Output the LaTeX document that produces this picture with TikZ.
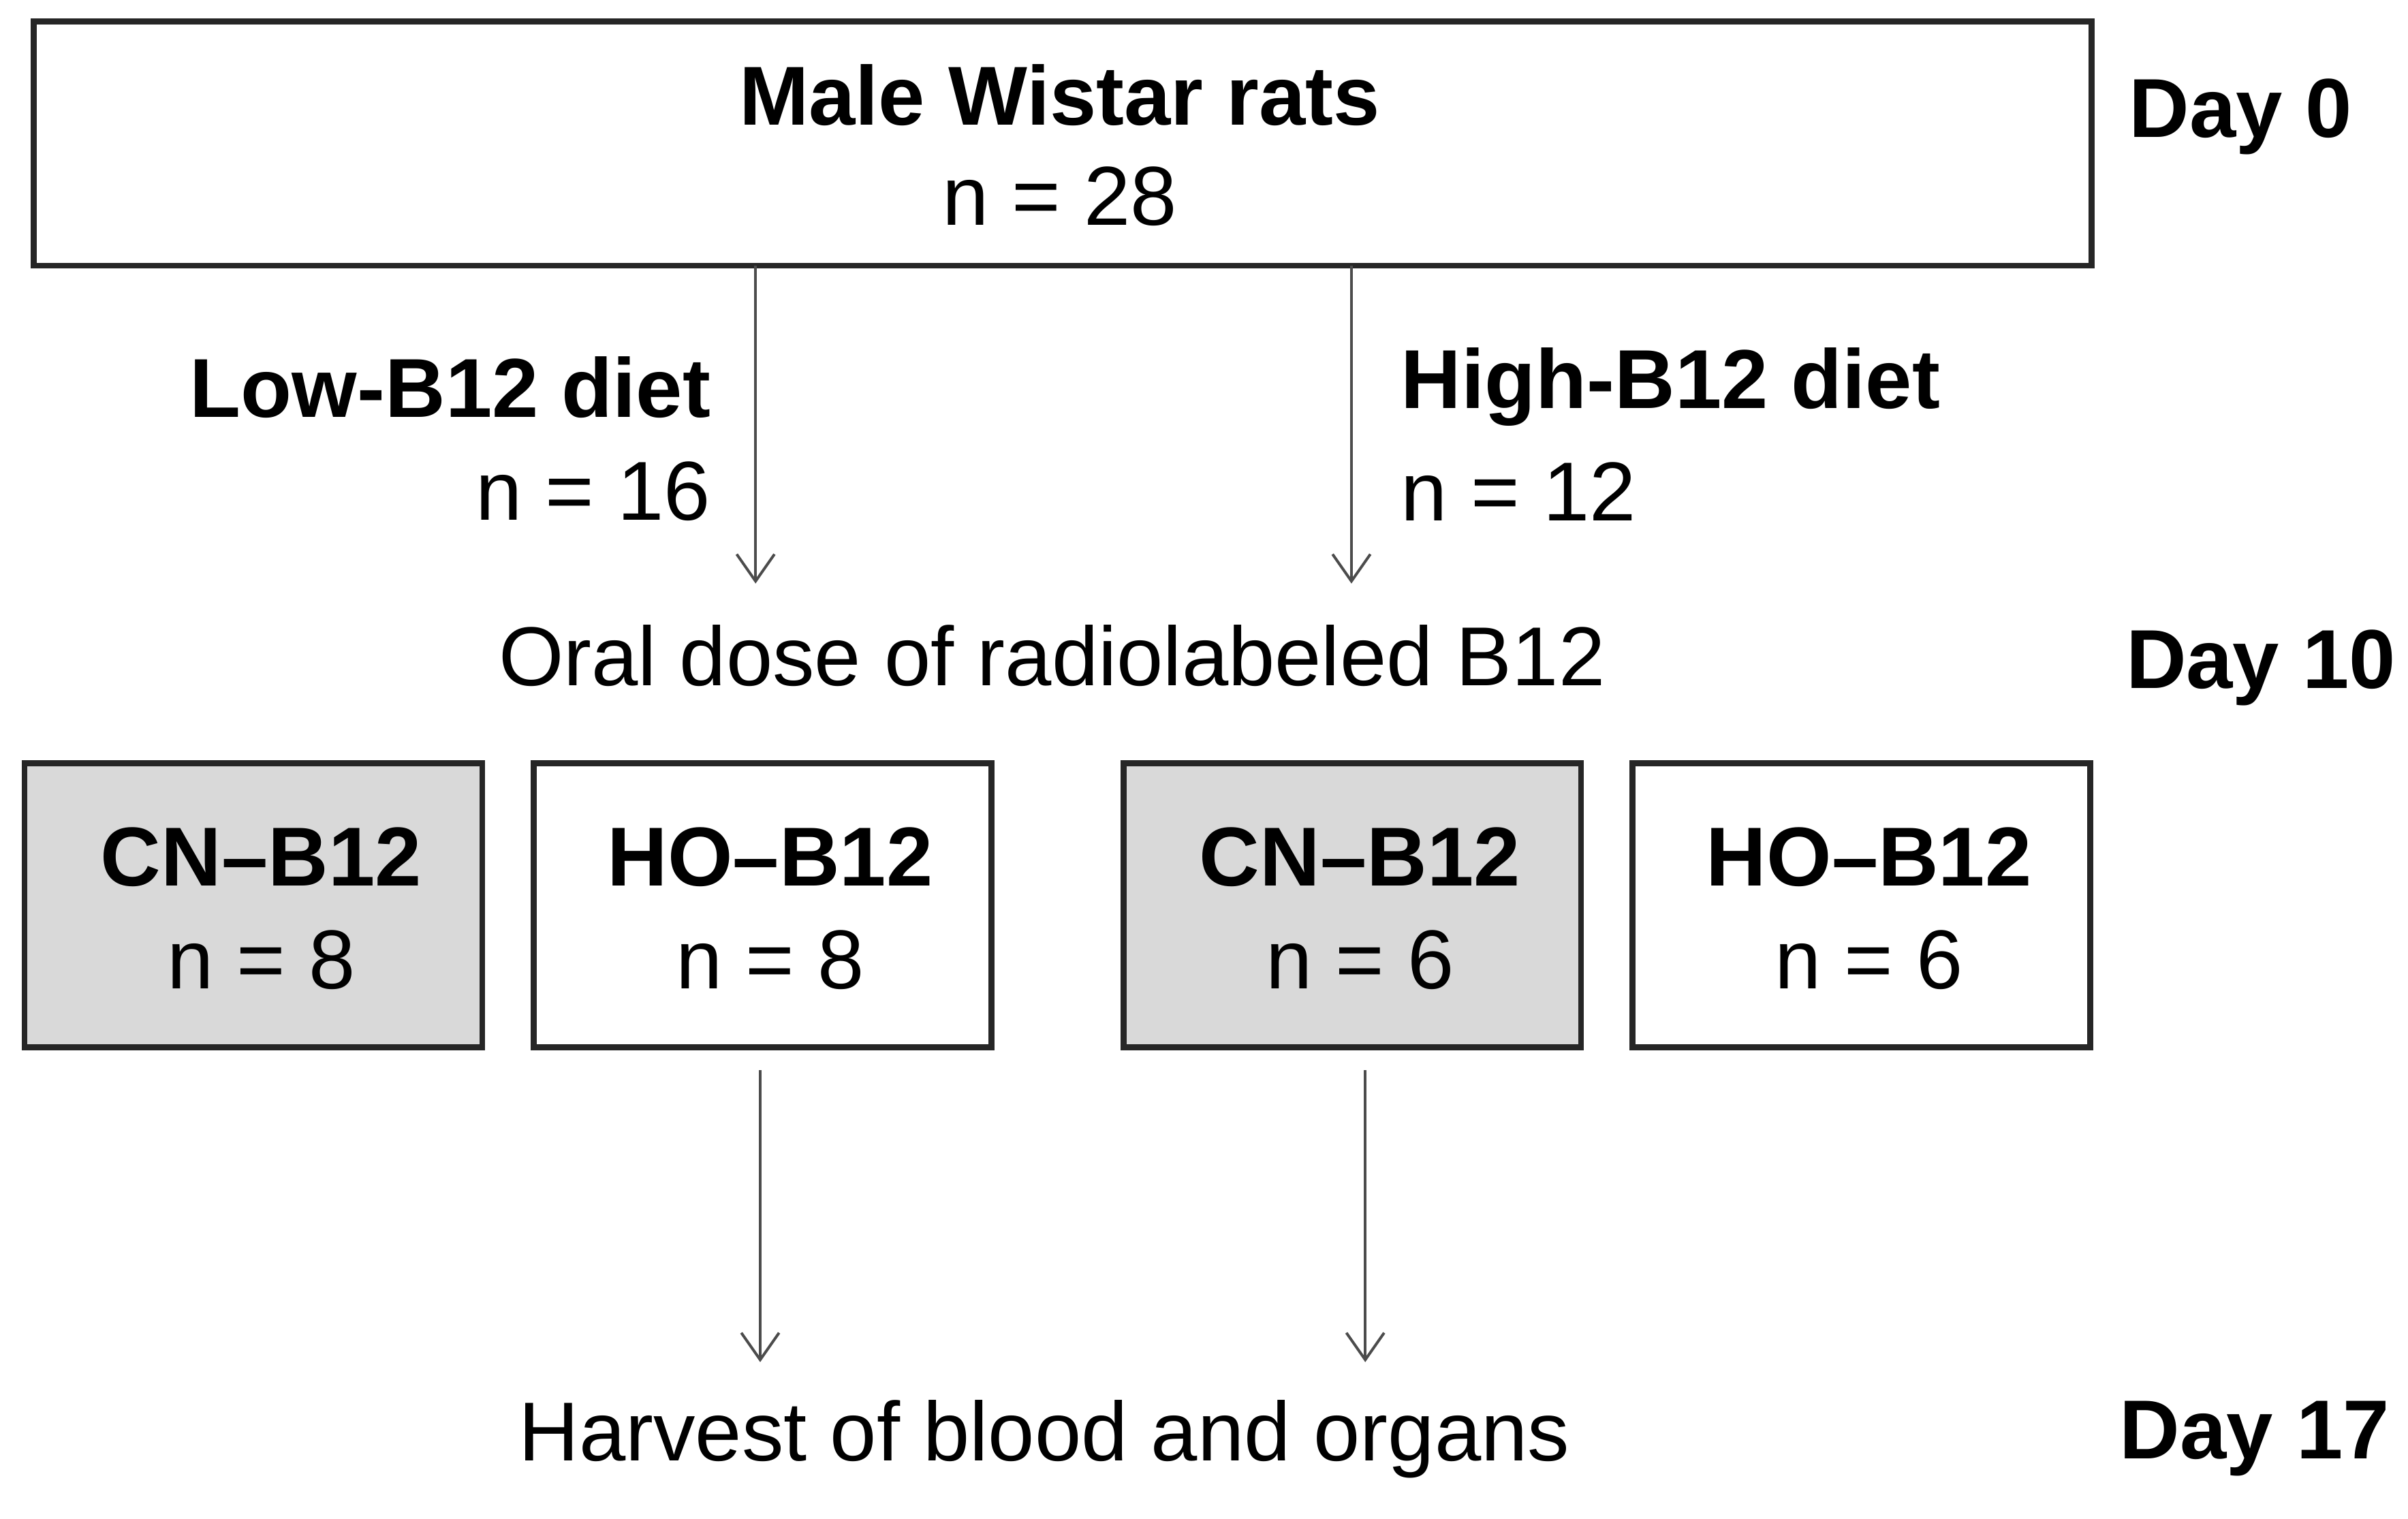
\documentclass[tikz,border=0pt]{standalone}
\usepackage{fontspec}
\setmainfont{Liberation Sans}
\usetikzlibrary{arrows.meta}
\begin{document}
\begin{tikzpicture}[x=0.02cm,y=-0.02cm,
  txt/.style={font=\fontsize{31}{37}\selectfont, inner sep=0pt},
  btxt/.style={txt, font=\fontsize{31}{37}\selectfont\bfseries},
  box/.style={draw=black!85, line width=2.2pt, inner sep=0pt},
  arr/.style={draw=black!70, line width=1pt, -{Straight Barb[length=10pt,width=14pt]}}]
\useasboundingbox (0,0) rectangle (1568,989);
\node[box, minimum width=1340*0.02cm, minimum height=159*0.02cm] (top) at (692,93.5) {};
\node[btxt] (t1) at (690,62) {Male Wistar rats};
\node[txt] (t2) at (690,128) {n = 28};
\node[btxt, anchor=west] (d0) at (1386,76) {Day 0};
\coordinate (la) at (492,380);
\coordinate (ha) at (880,380);
\draw[arr] (492,173) -- (la);
\draw[arr] (880,173) -- (ha);
\node[btxt, anchor=east] (low) at (463,252) {Low-B12 diet};
\node[txt, anchor=east] (low2) at (463,320) {n = 16};
\node[btxt, anchor=west] (high) at (912,252) {High-B12 diet};
\node[txt, anchor=west] (high2) at (912,320) {n = 12};
\node[txt] (oral) at (685,427) {Oral dose of radiolabeled B12};
\node[btxt, anchor=west] (d10) at (1384,435) {Day 10};
\foreach \n/\x/\f/\a/\b in {b1/165/gray!30/CN/8, b2/496.5/white/HO/8, b3/880.5/gray!30/CN/6, b4/1212/white/HO/6}{
  \node[box, fill=\f, minimum width=298*0.02cm, minimum height=185*0.02cm] (\n) at (\x,589.5) {};
  \node[btxt] at (\x+5,558) {\a--B12};
  \node[txt] at (\x+5,625) {n = \b};
}
\coordinate (e1) at (495,887);
\coordinate (e2) at (889,887);
\draw[arr] (495,697) -- (e1);
\draw[arr] (889,697) -- (e2);
\node[txt] (harv) at (680,937) {Harvest of blood and organs};
\node[btxt, anchor=west] (d17) at (1380,937) {Day 17};
\end{tikzpicture}
\end{document}
